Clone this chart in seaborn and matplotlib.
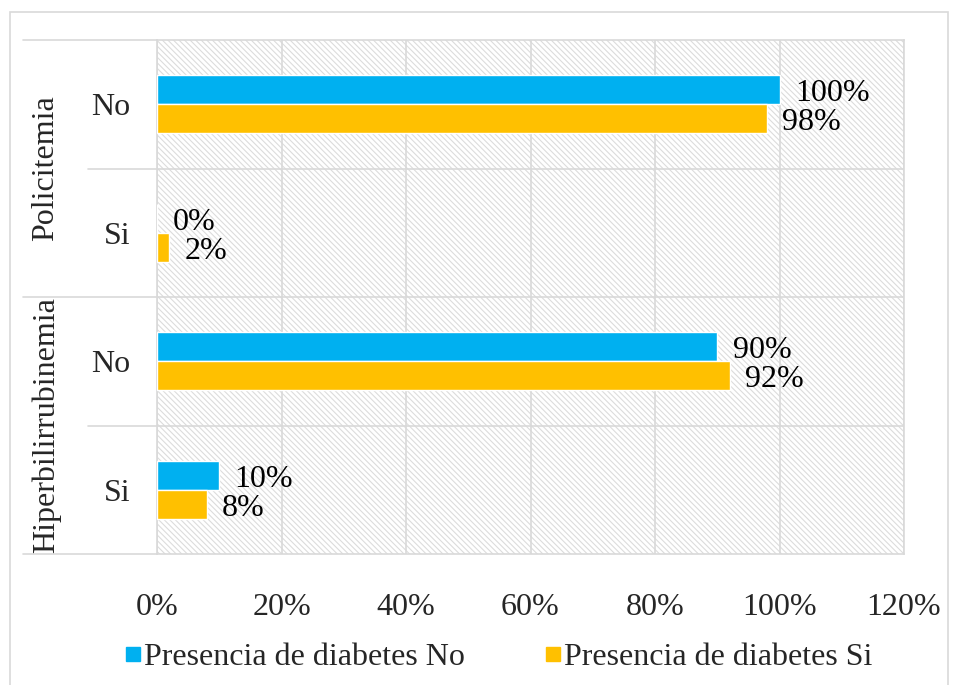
import matplotlib
matplotlib.use("Agg")
import matplotlib.pyplot as plt
import seaborn as sns
import pandas as pd
from matplotlib.patches import Rectangle
from matplotlib.lines import Line2D
import matplotlib.transforms as mtransforms

groups = ["Policitemia", "Policitemia", "Hiperbilirrubinemia", "Hiperbilirrubinemia"]
subcats = ["No", "Si", "No", "Si"]
series_names = ["Presencia de diabetes No", "Presencia de diabetes Si"]
vals_no = [100, 0, 90, 10]
vals_si = [98, 2, 92, 8]
xticks = [0, 20, 40, 60, 80, 100, 120]
colors = ["#00B0F0", "#FFC000"]

FS = 23

sns.set_theme(style="white")
plt.rcParams["font.family"] = ["Liberation Serif", "DejaVu Serif"]
plt.rcParams["hatch.linewidth"] = 0.8
plt.rcParams["hatch.color"] = "#dcdcdc"

keys = [f"{g}|{s}" for g, s in zip(groups, subcats)]
rows = []
for k, a, b in zip(keys, vals_no, vals_si):
    rows.append({"cat": k, "serie": series_names[0], "val": a})
    rows.append({"cat": k, "serie": series_names[1], "val": b})
df = pd.DataFrame(rows)

fig = plt.figure(figsize=(9.58, 6.85), dpi=100)
ax = fig.add_axes([157/958, 1-554/685, (904-157)/958, (554-40)/685])

# hatched background
ax.add_patch(Rectangle((0, 0), 1, 1, transform=ax.transAxes, facecolor="white",
                       hatch="\\\\\\\\\\\\", edgecolor="#dcdcdc", lw=0, zorder=0))

sns.barplot(data=df, y="cat", x="val", hue="serie", order=keys, hue_order=series_names,
            palette=colors, width=0.45, orient="h", ax=ax, saturation=1, zorder=3)

ax.set_xlim(0, 120)
ax.set_ylim(3.5, -0.5)
ax.set_xticks(xticks)
ax.set_xticklabels([f"{v}%" for v in xticks], fontsize=FS)
ax.set_yticks(range(len(keys)))
ax.set_yticklabels(subcats, fontsize=FS)
ax.tick_params(axis="x", length=0, pad=28)
ax.tick_params(axis="y", length=0, pad=19)
ax.set_xlabel("")
ax.set_ylabel("")
for v in xticks:
    ax.axvline(v, color="#d9d9d9", lw=1.2, zorder=1)
for y in [0.5, 1.5, 2.5]:
    ax.axhline(y, color="#d9d9d9", lw=1.2, zorder=1)
for sp in ax.spines.values():
    sp.set_color("#d9d9d9")
    sp.set_linewidth(1.2)

for cont in ax.containers:
    texts = ax.bar_label(cont, labels=[f"{int(v)}%" for v in cont.datavalues], padding=11,
                         fontsize=FS, color="black")
    for t in texts:
        t.xyann = (t.xyann[0], -3)

# group labels and separator lines on the left
trans = mtransforms.blended_transform_factory(fig.transFigure, ax.transData)
for y in [-0.5, 1.5, 3.5]:
    ax.add_line(Line2D([23/958, 157/958], [y, y], transform=trans, color="#d9d9d9",
                       lw=1.2, clip_on=False))
for y in [0.5, 2.5]:
    ax.add_line(Line2D([88/958, 157/958], [y, y], transform=trans, color="#d9d9d9",
                       lw=1.2, clip_on=False))
uniq = []
for g in groups:
    if g not in uniq:
        uniq.append(g)
for g in uniq:
    idx = [i for i, gg in enumerate(groups) if gg == g]
    yc = (idx[0] + idx[-1]) / 2
    ax.text(46/958, yc, g, transform=trans, rotation=90, ha="center", va="center",
            fontsize=FS)

# legend
handles = [Line2D([], [], marker="s", linestyle="", markersize=10, color=c) for c in colors]
leg = fig.legend(handles, series_names, loc="center", bbox_to_anchor=(497/958, 1-657/685),
                 ncol=2, frameon=False, fontsize=FS, handletextpad=0.0, columnspacing=2.4,
                 handlelength=0.7)
if ax.get_legend():
    ax.get_legend().remove()

# outer border
fig.patches.append(Rectangle((10/958, -0.01), 938/958, 1-12/685+0.01, transform=fig.transFigure,
                             fill=False, edgecolor="#d9d9d9", lw=1.2))

fig.savefig("out.png", dpi=100)
